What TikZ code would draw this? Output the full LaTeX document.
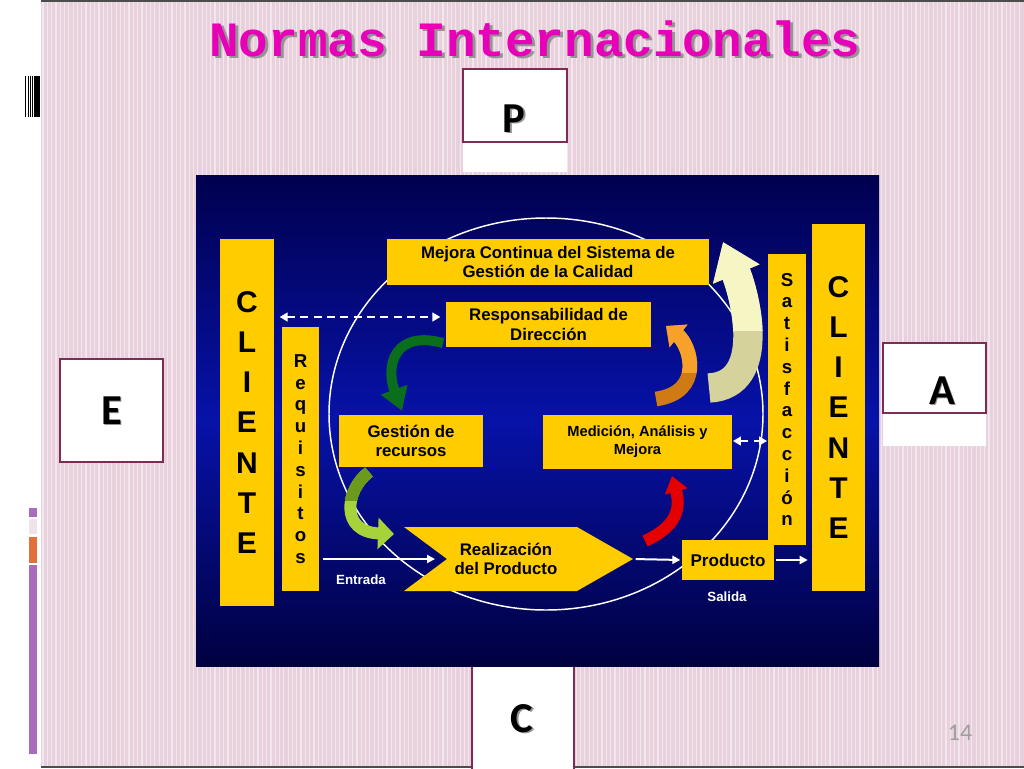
\documentclass[tikz,border=0pt]{standalone}
\usepackage{fontspec}
\setmainfont{Liberation Sans}
\newfontfamily\monofnt{Liberation Mono}
\newfontfamily\calfnt{Carlito}
\usetikzlibrary{arrows.meta,calc}
\definecolor{pinkbg}{HTML}{E8D1DD}
\definecolor{pinkst}{HTML}{F3E7EE}
\definecolor{gold}{HTML}{FFCC00}
\definecolor{maroonb}{HTML}{7E2C55}
\definecolor{magt}{HTML}{E800B8}
\definecolor{navyA}{HTML}{00004E}
\definecolor{navyB}{HTML}{0712A8}
\definecolor{navyC}{HTML}{000040}
\definecolor{purp}{HTML}{A96BBE}
\definecolor{orng}{HTML}{E2703A}
\definecolor{lpink}{HTML}{F0E2EA}
\definecolor{dgreen}{HTML}{0A6E1C}
\definecolor{lgreenA}{HTML}{6C9A1C}
\definecolor{lgreenB}{HTML}{A6D23A}
\definecolor{redA}{HTML}{E50000}
\definecolor{orA}{HTML}{F8A12A}
\definecolor{orB}{HTML}{CF7A12}
\definecolor{paleA}{HTML}{F6F6C4}
\definecolor{paleB}{HTML}{D6D29C}
\newcommand\shadowed[2]{\makebox[0pt][l]{\kern#1\raisebox{-#1}{\textcolor{black!42}{#2}}}#2}
\tikzset{
  sz/.style 2 args={minimum width=#1*0.75pt, minimum height=#2*0.75pt},
  ybox/.style={fill=gold, inner sep=0pt, align=center, text=black,
     font=\bfseries\fontsize{12.6}{14.6}\selectfont},
  bigcol/.style={fill=gold, inner sep=0pt, align=center, text=black,
     font=\bfseries\fontsize{22.5}{30.2}\selectfont},
  smallcol/.style={fill=gold, inner sep=0pt, align=center, text=black,
     font=\bfseries\fontsize{14}{16.35}\selectfont},
  pdca/.style={draw=maroonb, line width=1.5pt, fill=white, inner sep=0pt},
  pdcaletter/.style={anchor=base, inner sep=0pt, font=\calfnt\bfseries\fontsize{32}{32}\selectfont},
  warrow/.style={draw=white, line width=1.5pt, -{Triangle[length=6pt,width=6pt]}},
  wdash/.style={draw=white, line width=1.8pt, dash pattern=on 6pt off 4pt,
     {Triangle[length=6pt,width=6.5pt]}-{Triangle[length=6pt,width=6.5pt]}},
  curly/.style n args={4}{draw=#1, line width=#2, -{Triangle[length=#3,width=#4]}},
  wlabel/.style={text=white, font=\bfseries\fontsize{10}{12}\selectfont, inner sep=0pt},
}
\begin{document}
\begin{tikzpicture}[x=0.75pt,y=-0.75pt]
\useasboundingbox (0,0) rectangle (1024,768);
\fill[white] (0,0) rectangle (1024,768);
\fill[pinkbg] (41,0) rectangle (1024,768);
\foreach \x in {43,47.3,...,1022} \draw[pinkst, line width=0.9pt] (\x,0) -- (\x,768);
\draw[black!70, line width=1.2pt] (41,0.8) -- (1024,0.8);
\draw[black!70, line width=1.2pt] (41,767.2) -- (1024,767.2);
% barcode
\fill[black] (25,76) rectangle (26,117);
\fill[black] (27.7,76) rectangle (28.7,117);
\fill[black] (29.6,76) rectangle (30.7,117);
\fill[black] (31.8,76) rectangle (33.2,117);
\fill[black] (34.3,76) rectangle (40,117);
% left decorations
\fill[purp] (29,508) rectangle (37,517);
\fill[lpink] (29,519) rectangle (37,534);
\fill[orng] (29,537) rectangle (37,563);
\fill[purp] (29,565) rectangle (37,754);
% title
\node[anchor=base, inner sep=0pt, text=magt, font=\monofnt\bfseries\fontsize{37}{37}\selectfont] (title) at (535,56) {\shadowed{2.2pt}{Normas Internacionales}};
% PDCA boxes
\fill[white] (463,142) rectangle (567,172);
\node[pdca, sz={104}{73}] (pbox) at (515,105.5) {};
\node[pdcaletter] (pl) at (514,132) {\shadowed{1.4pt}{P}};
\node[pdca, sz={103}{103}] (ebox) at (111.5,410.5) {};
\node[pdcaletter] (el) at (111.5,424) {\shadowed{1.4pt}{E}};
\fill[white] (883,413) rectangle (986,446);
\node[pdca, sz={103}{70}] (abox) at (934.5,378) {};
\node[pdcaletter] (al) at (942,404) {\shadowed{1.4pt}{A}};
\node[pdca, sz={102}{108}] (cbox) at (523,719) {};
\node[pdcaletter] (cl) at (522,732) {\shadowed{1.4pt}{C}};
\node[anchor=base, inner sep=0pt, text=black!38, font=\calfnt\fontsize{18}{18}\selectfont] (num) at (960,740) {14};
% panel
\shade[top color=navyA, bottom color=navyC, middle color=navyB] (196,175) rectangle (879,666);
\draw[white, line width=1.1pt] (546,414) ellipse [x radius=217, y radius=196];
% boxes
\node[ybox, sz={322}{46}] (mejora) at (548,262) {Mejora Continua del Sistema de\\Gestión de la Calidad};
\node[ybox, sz={205}{45}] (resp) at (548.5,324.5) {Responsabilidad de\\Dirección};
\node[ybox, sz={144}{52}] (gest) at (411,441) {Gestión de\\recursos};
\node[ybox, sz={189}{54}, font=\bfseries\fontsize{11}{13.5}\selectfont] (medic) at (637.5,442) {Medición, Análisis y\\Mejora};
\node[ybox, sz={92}{40}, font=\bfseries\fontsize{12.8}{15}\selectfont] (prod) at (728,560) {Producto};
\node[bigcol, sz={54}{367}] (clil) at (247,422.5) {C\\L\\I\\E\\N\\T\\E};
\node[smallcol, sz={37}{264}] (req) at (300.5,459) {R\\e\\q\\u\\i\\s\\i\\t\\o\\s};
\node[smallcol, sz={38}{291}] (sat) at (787,399.5) {S\\a\\t\\i\\s\\f\\a\\c\\c\\i\\ó\\n};
\node[bigcol, sz={53}{367}] (clir) at (838.5,407.5) {C\\L\\I\\E\\N\\T\\E};
% realization
\fill[gold] (404,527) -- (577,527) -- (633,559) -- (577,591) -- (404,591) -- (447,559) -- cycle;
\coordinate (notch) at (447,559);
\coordinate (tip) at (633,559);
\node[inner sep=0pt, align=center, font=\bfseries\fontsize{12.6}{14.8}\selectfont] (realiz) at (506,559) {Realización\\del Producto};
% connectors
\draw[warrow, shorten <=3pt, shorten >=9pt] (req.east |- notch) -- (notch);
\draw[warrow, shorten <=2pt, shorten >=1pt] (tip) -- (prod.west);
\draw[warrow, shorten <=1.5pt, shorten >=3pt] (prod.east) -- (clir.west |- prod.east);
\draw[wdash, shorten <=4pt, shorten >=4pt] (clil.east |- 0,317) -- (resp.west |- 0,317);
\draw[wdash, shorten <=0.5pt, shorten >=0.5pt] (medic.east |- 0,441) -- (sat.west |- 0,441);
\node[wlabel] (entrada) at (361,580) {Entrada};
\node[wlabel] (salida) at (727,597) {Salida};
% curved arrows
\draw[curly={dgreen}{7.5pt}{17pt}{20pt}] (443,343) .. controls (395,330) and (385,365) .. (402,411);
\draw[curly={lgreenB}{9pt}{12pt}{23pt}] (369,472) .. controls (345,490) and (340,532) .. (394,534);
\begin{scope}
\clip (320,460) rectangle (420,500);
\draw[curly={lgreenA}{9pt}{12pt}{23pt}] (369,472) .. controls (345,490) and (340,532) .. (394,534);
\end{scope}
\draw[curly={redA}{9pt}{12pt}{17pt}] (645,541) .. controls (680,525) and (680,505) .. (672,476);
\draw[curly={orB}{11pt}{12pt}{21pt}] (656,399) .. controls (705,392) and (690,345) .. (666,326);
\begin{scope}
\clip (640,300) rectangle (720,372);
\draw[curly={orA}{11pt}{12pt}{21pt}] (656,399) .. controls (705,392) and (690,345) .. (666,326);
\end{scope}
\draw[curly={paleB}{22pt}{26pt}{36pt}] (709,388) .. controls (768,385) and (745,295) .. (723,242);
\begin{scope}
\clip (690,220) rectangle (790,330);
\draw[curly={paleA}{22pt}{26pt}{36pt}] (709,388) .. controls (768,385) and (745,295) .. (723,242);
\end{scope}
\end{tikzpicture}
\end{document}
